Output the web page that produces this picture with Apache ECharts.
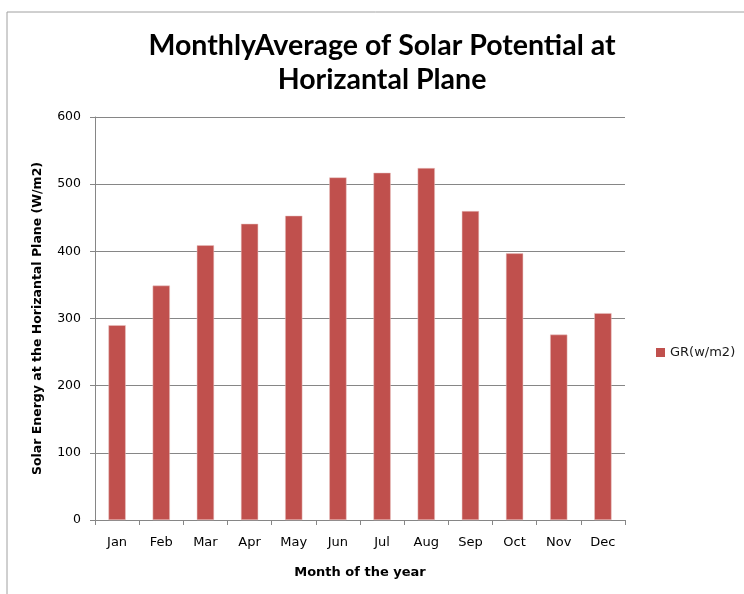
<!DOCTYPE html>
<html>
<head>
<meta charset="utf-8">
<script src="https://cdn.jsdelivr.net/npm/echarts@6/dist/echarts.min.js"></script>
<style>
  html, body { margin: 0; padding: 0; background: #fff; }
  #chart { width: 744px; height: 594px; }
</style>
</head>
<body>
<div id="chart"></div>
<script>
// Monthly solar potential on a horizontal plane
const months = ['Jan', 'Feb', 'Mar', 'Apr', 'May', 'Jun', 'Jul', 'Aug', 'Sep', 'Oct', 'Nov', 'Dec'];
const grValues = [290, 349, 409, 441, 453, 510, 517, 524, 460, 397, 276, 308];
const seriesName = 'GR(w/m2)';
const yTicks = { min: 0, max: 600, interval: 100 };

const chart = echarts.init(document.getElementById('chart'), null, { renderer: 'canvas' });

const labelFont = 'DejaVu Sans, Verdana, sans-serif';
const headFont = 'Lato, "Open Sans", sans-serif';

chart.setOption({
  animation: false,
  backgroundColor: '#ffffff',
  graphic: [{
    type: 'polyline',
    shape: { points: [[7, 594], [7, 12], [744, 12]] },
    style: { stroke: '#a0a0a0', lineWidth: 1, fill: null },
    silent: true
  }],
  title: {
    text: 'MonthlyAverage of Solar Potential at\nHorizantal Plane',
    left: 377,
    textAlign: 'center',
    top: 24,
    textStyle: {
      fontFamily: headFont,
      fontWeight: 'bold',
      fontSize: 28.5,
      lineHeight: 34,
      color: '#000'
    }
  },
  legend: {
    orient: 'vertical',
    left: 651,
    top: 341,
    itemWidth: 9,
    itemHeight: 9,
    itemGap: 4,
    icon: 'rect',
    itemStyle: { borderWidth: 0 },
    textStyle: { fontFamily: labelFont, fontSize: 13, color: '#1a1a1a' },
    data: [seriesName]
  },
  grid: {
    left: 95,
    right: 119,
    top: 117,
    bottom: 74,
    containLabel: false
  },
  xAxis: {
    type: 'category',
    data: months,
    name: 'Month of the year',
    nameLocation: 'middle',
    nameGap: 46,
    nameTextStyle: { fontFamily: labelFont, fontWeight: 'bold', fontSize: 13, color: '#000' },
    axisLine: { lineStyle: { color: '#868686', width: 1 } },
    axisTick: { show: true, alignWithLabel: false, length: 5, lineStyle: { color: '#868686' } },
    axisLabel: { fontFamily: labelFont, fontSize: 13, color: '#000', margin: 16 },
    splitLine: { show: false }
  },
  yAxis: {
    type: 'value',
    min: yTicks.min,
    max: yTicks.max,
    interval: yTicks.interval,
    name: 'Solar Energy at the Horizantal Plane (W/m2)',
    nameLocation: 'middle',
    nameGap: 51,
    nameRotate: 90,
    nameTextStyle: { fontFamily: labelFont, fontWeight: 'bold', fontSize: 12.5, color: '#000' },
    axisLine: { show: true, lineStyle: { color: '#868686', width: 1 } },
    axisTick: { show: true, length: 5, lineStyle: { color: '#868686' } },
    axisLabel: { fontFamily: labelFont, fontSize: 12.5, color: '#000', margin: 14 },
    splitLine: { show: true, lineStyle: { color: '#868686', width: 1 } }
  },
  series: [{
    name: seriesName,
    type: 'bar',
    data: grValues,
    barWidth: '39%',
    itemStyle: { color: '#C0504D', borderColor: '#e8c4c3', borderWidth: 0.5 }
  }]
});
</script>
</body>
</html>
